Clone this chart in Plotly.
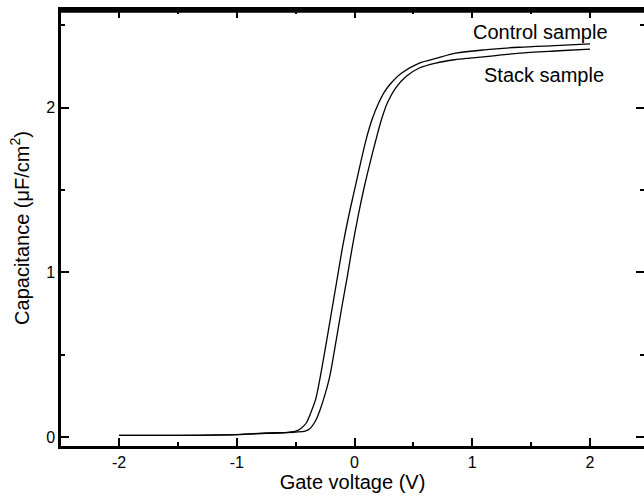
import plotly.graph_objects as go

# C-V curves
control_v = [-2.0, -1.5, -1.0, -0.75, -0.6, -0.5, -0.45, -0.41, -0.37, -0.33, -0.3,
             -0.25, -0.2, -0.15, -0.1, -0.05, 0.0, 0.05, 0.1, 0.15, 0.2, 0.25, 0.3,
             0.4, 0.55, 0.7, 0.86, 1.1, 1.4, 1.7, 2.0]
control_c = [0.01, 0.01, 0.015, 0.022, 0.025, 0.035, 0.055, 0.085, 0.15, 0.23, 0.33,
             0.53, 0.74, 0.95, 1.16, 1.34, 1.50, 1.66, 1.81, 1.93, 2.02, 2.09, 2.14,
             2.21, 2.27, 2.30, 2.33, 2.35, 2.366, 2.376, 2.386]

stack_v = [-2.0, -1.5, -1.0, -0.75, -0.6, -0.5, -0.42, -0.38, -0.33, -0.29, -0.25,
           -0.21, -0.16, -0.11, -0.06, -0.02, 0.03, 0.08, 0.13, 0.18, 0.23, 0.28,
           0.35, 0.44, 0.55, 0.69, 0.85, 0.98, 1.2, 1.4, 1.7, 2.0]
stack_c = [0.01, 0.01, 0.015, 0.025, 0.027, 0.03, 0.035, 0.05, 0.1, 0.17, 0.26,
           0.37, 0.57, 0.78, 0.98, 1.15, 1.34, 1.51, 1.66, 1.80, 1.93, 2.03,
           2.12, 2.19, 2.24, 2.27, 2.29, 2.30, 2.315, 2.33, 2.343, 2.354]

x_ticks = [-2, -1, 0, 1, 2]
x_labels = ["-2", "-1", "0", "1", "2"]
y_ticks = [0, 1, 2]

FONT = "Liberation Sans, Arial, sans-serif"
X_RANGE = [-2.4926, 2.458]
Y_RANGE = [-0.0546, 2.592]

fig = go.Figure()
fig.add_trace(go.Scatter(x=control_v, y=control_c, mode="lines", name="Control sample",
                         line={"color": "black", "width": 1.3, "shape": "spline", "smoothing": 0.8}))
fig.add_trace(go.Scatter(x=stack_v, y=stack_c, mode="lines", name="Stack sample",
                         line={"color": "black", "width": 1.3, "shape": "spline", "smoothing": 0.8}))

tick_common = {
    "ticks": "inside",
    "ticklen": 8,
    "tickwidth": 2,
    "tickcolor": "black",
    "minor": {"ticks": "inside", "ticklen": 4, "tickwidth": 1.5, "dtick": 0.5, "tickcolor": "black"},
    "showgrid": False,
    "zeroline": False,
    "automargin": False,
}

fig.update_layout(
    width=644,
    height=497,
    margin={"l": 61, "r": 0, "t": 10, "b": 51},
    plot_bgcolor="rgba(0,0,0,0)",
    paper_bgcolor="white",
    showlegend=False,
    font={"family": FONT, "size": 16, "color": "black"},
    xaxis={
        **tick_common,
        "range": X_RANGE,
        "tickvals": x_ticks,
        "ticktext": x_labels,
        "tickfont": {"size": 16, "color": "black"},
        "showline": True,
        "mirror": "allticks",
        "linewidth": 2.5,
        "linecolor": "black",
        "title": {"text": "Gate voltage (V)", "font": {"size": 20, "color": "black"}, "standoff": 1},
    },
    yaxis={
        **tick_common,
        "range": Y_RANGE,
        "tickvals": y_ticks,
        "tickfont": {"size": 16, "color": "black"},
        "showline": True,
        "mirror": "allticks",
        "linewidth": 2.5,
        "linecolor": "black",
        "title": {"text": "Capacitance (\u03bcF/cm<sup>2</sup>)", "font": {"size": 20, "color": "black"}, "standoff": 12},
    },
)

# top frame edge, drawn a touch inside the plot area
fig.add_shape(type="line", xref="paper", yref="paper", x0=0, x1=1, y0=0.997, y1=0.997,
              line={"color": "black", "width": 3}, layer="above")

fig.add_annotation(x=1.58, y=2.46, text="Control sample", showarrow=False,
                   font={"size": 20, "family": FONT, "color": "black"})
fig.add_annotation(x=1.61, y=2.20, text="Stack sample", showarrow=False,
                   font={"size": 20, "family": FONT, "color": "black"})

# the page body has an 8px default margin; drop it so the figure fills the window
fig.write_html("out.html", config={"displayModeBar": False},
               post_script="document.body.style.margin='0';document.body.style.overflow='hidden';")
